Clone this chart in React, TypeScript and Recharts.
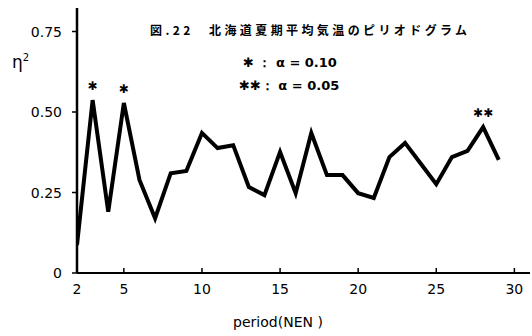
import { LineChart, Line, XAxis, YAxis, ReferenceDot } from 'recharts'

const periods = [2, 3, 4, 5, 6, 7, 8, 9, 10, 11, 12, 13, 14, 15, 16, 17, 18, 19, 20, 21, 22, 23, 24, 25, 26, 27, 28, 29]
const eta2 = [
  0.087, 0.537, 0.19, 0.528, 0.289, 0.17, 0.31, 0.317, 0.435, 0.388, 0.397, 0.267, 0.242, 0.376,
  0.248, 0.435, 0.304, 0.304, 0.248, 0.233, 0.36, 0.404, 0.34, 0.276, 0.36, 0.379, 0.453, 0.351,
]
const xTicks = [2, 5, 10, 15, 20, 25, 30]
const yTicks = [0, 0.25, 0.5, 0.75]
const marked = [
  { period: 3, label: '✱' },
  { period: 5, label: '✱' },
  { period: 28, label: '✱✱' },
]

const data = periods.map((p, i) => ({ period: p, eta2: eta2[i] }))

const FONT = '"DejaVu Sans", sans-serif'
const CJK = '"Noto Sans CJK JP", sans-serif'

function XTick({ x, y, payload }: any) {
  return (
    <g>
      <line x1={x} x2={x} y1={y} y2={y - 5} stroke="#000" strokeWidth={1.5} />
      <text x={x} y={y + 21} textAnchor="middle" fontSize={14} fontFamily={FONT} fill="#000">
        {payload.value}
      </text>
    </g>
  )
}

function YTick({ x, y, payload }: any) {
  const v = payload.value
  return (
    <g>
      <line x1={x - 5} x2={x} y1={y} y2={y} stroke="#000" strokeWidth={1.5} />
      <text x={x - 15} y={y + 5} textAnchor="end" fontSize={14} fontFamily={FONT} fill="#000">
        {v === 0 ? '0' : v.toFixed(2)}
      </text>
    </g>
  )
}

export default function App() {
  return (
    <div style={{ position: 'absolute', left: 0, top: 0, background: '#fff' }}>
      <LineChart width={532} height={336} data={data} margin={{ top: 8, right: 2, bottom: 0, left: 0 }}>
        <XAxis
          type="number"
          dataKey="period"
          domain={[2, 31]}
          ticks={xTicks}
          allowDataOverflow
          height={63}
          tickSize={0}
          tickMargin={0}
          tickLine={false}
          tick={<XTick />}
          axisLine={{ stroke: '#000', strokeWidth: 2 }}
        />
        <YAxis
          type="number"
          domain={[0, 0.823]}
          ticks={yTicks}
          allowDataOverflow
          width={77}
          tickSize={0}
          tickMargin={0}
          tickLine={false}
          tick={<YTick />}
          axisLine={{ stroke: '#000', strokeWidth: 2.5 }}
        />
        <Line
          dataKey="eta2"
          stroke="#000"
          strokeWidth={4}
          strokeLinejoin="miter"
          dot={false}
          isAnimationActive={false}
        />
        {marked.map((m) => (
          <ReferenceDot
            key={m.period}
            x={m.period}
            y={eta2[periods.indexOf(m.period)]}
            r={0}
            fill="none"
            stroke="none"
            label={{ value: m.label, position: 'top', offset: 10, fontSize: 12, fill: '#000', fontFamily: FONT }}
          />
        ))}
        <text x={150} y={35} fontSize={12} fontWeight="bold" fontFamily={CJK} letterSpacing={3.4} fill="#000">
          図.22　北海道夏期平均気温のピリオドグラム
        </text>
        <text x={243} y={67} fontSize={13} fontWeight="bold" fontFamily={FONT} fill="#000">
          ✱ ：  α = 0.10
        </text>
        <text x={239} y={90} fontSize={13} fontWeight="bold" fontFamily={FONT} fill="#000">
          ✱✱：  α = 0.05
        </text>
        <text x={12} y={68} fontSize={17} fontFamily={FONT} fill="#000">
          η<tspan dy={-7} fontSize={10}>2</tspan>
        </text>
        <text x={278} y={327} textAnchor="middle" fontSize={14} fontFamily={FONT} fill="#000">
          period(NEN )
        </text>
      </LineChart>
    </div>
  )
}
